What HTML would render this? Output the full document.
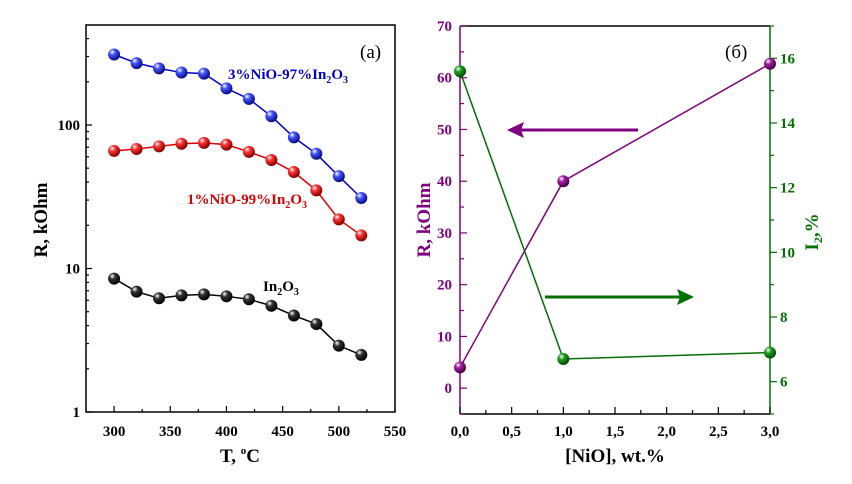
<!DOCTYPE html>
<html><head><meta charset="utf-8"><style>
body{margin:0;background:#fff;}
svg{display:block;font-family:"Liberation Serif",serif;font-weight:bold;}
</style></head><body>
<svg id="c" width="852" height="484" viewBox="0 0 852 484" xmlns="http://www.w3.org/2000/svg">
<defs>
<radialGradient id="gb" cx="0.35" cy="0.3" r="0.7"><stop offset="0" stop-color="#fff"/><stop offset="0.35" stop-color="#4455ff"/><stop offset="1" stop-color="#0a0a80"/></radialGradient>
<radialGradient id="gr" cx="0.35" cy="0.3" r="0.7"><stop offset="0" stop-color="#fff"/><stop offset="0.35" stop-color="#ff3333"/><stop offset="1" stop-color="#800000"/></radialGradient>
<radialGradient id="gk" cx="0.35" cy="0.3" r="0.7"><stop offset="0" stop-color="#fff"/><stop offset="0.35" stop-color="#333"/><stop offset="1" stop-color="#000"/></radialGradient>
<radialGradient id="gp" cx="0.35" cy="0.3" r="0.7"><stop offset="0" stop-color="#fff"/><stop offset="0.35" stop-color="#a020a0"/><stop offset="1" stop-color="#4a004a"/></radialGradient>
<radialGradient id="gg" cx="0.35" cy="0.3" r="0.7"><stop offset="0" stop-color="#fff"/><stop offset="0.35" stop-color="#22a022"/><stop offset="1" stop-color="#004a00"/></radialGradient>
</defs>
</svg>
<script>
const temps=[300,320,340,360,380,400,420,440,460,480,500,520];
const rBlue=[310,270,248,232,228,180,152,115,82,63,44,31];
const rRed=[66,68,71,74,75,73,65,57,47,35,22,17];
const rBlack=[8.5,6.9,6.2,6.5,6.6,6.4,6.1,5.5,4.7,4.1,2.9,2.5];
const xTicksA=[300,350,400,450,500,550];
const yTicksA=[1,10,100];
const nio=[0,1,3];
const rNio=[4,40,62.7];
const iNio=[15.6,6.7,6.9];
const xTicksB=[0,0.5,1,1.5,2,2.5,3];
const yTicksBL=[0,10,20,30,40,50,60,70];
const yTicksBR=[6,8,10,12,14,16];

const svg=document.getElementById('c');
const NS='http://www.w3.org/2000/svg';
function mk(t,a,txt){const e=document.createElementNS(NS,t);for(const k in a)e.setAttribute(k,a[k]);if(txt!==undefined)e.textContent=txt;svg.appendChild(e);return e;}

// Panel A
const AL=86,AR=395,AT=25,AB=412;
const xA=v=>AL+(v-275)/(550-275)*(AR-AL);
const yA=v=>AB-Math.log10(v)*143.5;
let e=mk('rect',{x:AL,y:AT,width:AR-AL,height:AB-AT,fill:'none',stroke:'#000','stroke-width':1.5});

for(let v=275;v<=550;v+=25){const x=xA(v);const major=v%50===0;
 mk('line',{x1:x,y1:AB,x2:x,y2:AB-(major?6:3),stroke:'#000','stroke-width':1.2});}
xTicksA.forEach(v=>{e=mk('text',{x:xA(v),y:AB+24,'text-anchor':'middle','font-size':15},v);
 });
for(let d=0;d<3;d++)for(let m=1;m<=9;m++){const v=m*Math.pow(10,d);const y=yA(v);if(y<AT)continue;
 mk('line',{x1:AL,y1:y,x2:AL+(m===1?6:3),y2:y,stroke:'#000','stroke-width':1.2});}
yTicksA.forEach(v=>{e=mk('text',{x:AL-6,y:yA(v)+5,'text-anchor':'end','font-size':15},v);
 });
e=mk('text',{x:240,y:462,'text-anchor':'middle','font-size':19});
e.innerHTML='T, <tspan font-size="11" dy="-8">o</tspan><tspan dy="8">C</tspan>';

e=mk('text',{x:47,y:220,'text-anchor':'middle','font-size':19,transform:'rotate(-90 47 220)'},'R, kOhm');

e=mk('text',{x:360,y:58,'text-anchor':'start','font-size':19,'font-weight':'normal'},'(a)');

function series(vals,xs,fx,fy,col,grad,name){
 const pts=vals.map((v,i)=>fx(xs[i])+','+fy(v)).join(' ');
 e=mk('polyline',{points:pts,fill:'none',stroke:col,'stroke-width':1.5});
 
 vals.forEach((v,i)=>{e=mk('circle',{cx:fx(xs[i]),cy:fy(v),r:6,fill:'url(#'+grad+')'});
  });
}
series(rBlue,temps,xA,yA,'#0000cc','gb','series-3nio');
series(rRed,temps,xA,yA,'#dd0000','gr','series-1nio');
series(rBlack,temps,xA,yA,'#000','gk','series-in2o3');
e=mk('text',{x:228,y:79,'font-size':15,fill:'#0000cc'});
e.innerHTML='3%NiO-97%In<tspan font-size="10" dy="4">2</tspan><tspan dy="-4">O</tspan><tspan font-size="10" dy="4">3</tspan>';

e=mk('text',{x:187,y:204,'font-size':15,fill:'#dd0000'});
e.innerHTML='1%NiO-99%In<tspan font-size="10" dy="4">2</tspan><tspan dy="-4">O</tspan><tspan font-size="10" dy="4">3</tspan>';

e=mk('text',{x:263,y:291,'font-size':15,fill:'#000'});
e.innerHTML='In<tspan font-size="10" dy="4">2</tspan><tspan dy="-4">O</tspan><tspan font-size="10" dy="4">3</tspan>';


// Panel B
const BL=460,BR=770,BT=26,BB=414;
const P='#800080',G='#007000';
const xB=v=>BL+v/3*(BR-BL);
const yBL=v=>BB-(v+5)/75*(BB-BT);
const yBR=v=>BB-(v-5)/12*(BB-BT);
e=mk('line',{x1:BL,y1:BT,x2:BR,y2:BT,stroke:'#000','stroke-width':1.5});

e=mk('line',{x1:BL,y1:BB,x2:BR,y2:BB,stroke:'#000','stroke-width':1.5});

e=mk('line',{x1:BL,y1:BT,x2:BL,y2:BB,stroke:P,'stroke-width':1.5});

e=mk('line',{x1:BR,y1:BT,x2:BR,y2:BB,stroke:G,'stroke-width':1.5});

for(let v=0;v<=3.001;v+=0.25){const x=xB(v);const major=Math.abs(v*2-Math.round(v*2))<1e-6;
 mk('line',{x1:x,y1:BB,x2:x,y2:BB-(major?7:4),stroke:'#000','stroke-width':1.2});}
xTicksB.forEach(v=>{e=mk('text',{x:xB(v),y:BB+22,'text-anchor':'middle','font-size':15},v.toFixed(1).replace('.',','));
 });
for(let v=-5;v<=70;v+=5){mk('line',{x1:BL,y1:yBL(v),x2:BL+(v%10===0?7:4),y2:yBL(v),stroke:P,'stroke-width':1.2});}
yTicksBL.forEach(v=>{e=mk('text',{x:BL-8,y:yBL(v)+5,'text-anchor':'end','font-size':15,fill:P},v);
 });
for(let v=5;v<=17;v+=1){mk('line',{x1:BR,y1:yBR(v),x2:BR+(v%2===0?7:4),y2:yBR(v),stroke:G,'stroke-width':1.2});}
yTicksBR.forEach(v=>{e=mk('text',{x:BR+10,y:yBR(v)+5,'text-anchor':'start','font-size':15,fill:G},v);
 });
e=mk('text',{x:615,y:462,'text-anchor':'middle','font-size':19},'[NiO], wt.%');

e=mk('text',{x:430,y:220,'text-anchor':'middle','font-size':19,fill:P,transform:'rotate(-90 430 220)'},'R, kOhm');

e=mk('text',{x:818,y:232,'text-anchor':'middle','font-size':19,fill:G,transform:'rotate(-90 818 232)'});
e.innerHTML='I<tspan font-size="12" dy="4">2</tspan><tspan dy="-4">,%</tspan>';

e=mk('text',{x:725,y:58,'font-size':19,'font-weight':'normal'},'(б)');

series(rNio,nio,xB,yBL,P,'gp','resistance-series');
series(iNio,nio,xB,yBR,G,'gg','intensity-series');
e=mk('line',{x1:638,y1:130,x2:520,y2:130,stroke:P,'stroke-width':3});

e=mk('polygon',{points:'507,130 524,122 521,130 524,138',fill:P});

e=mk('line',{x1:545,y1:297,x2:680,y2:297,stroke:G,'stroke-width':3});

e=mk('polygon',{points:'694,297 677,289 680,297 677,305',fill:G});

</script>
</body></html>
